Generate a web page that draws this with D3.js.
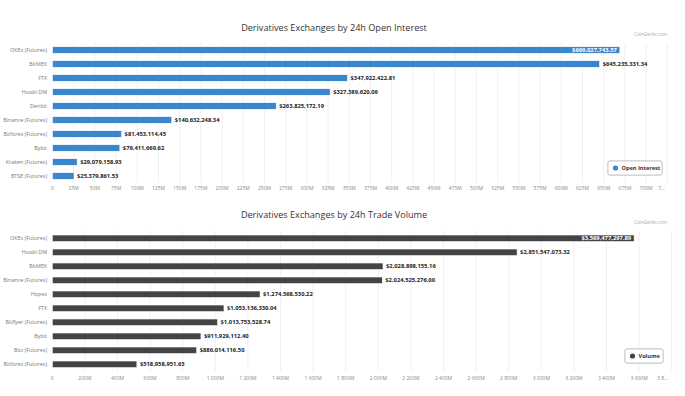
<!DOCTYPE html>
<html>
<head>
<meta charset="utf-8">
<script src="https://cdn.jsdelivr.net/npm/d3@7"></script>
<style>
  body { margin: 0; background: #fff; }
  svg { display: block; font-family: "Open Sans", "DejaVu Sans", sans-serif; }
  .title { font-size: 9.1px; fill: #333; }
  .credit { font-size: 4.5px; fill: #aaa; }
  .cat { font-size: 5.4px; fill: #777; }
  .tick-label { font-size: 5px; fill: #888; }
  .val { font-size: 5.8px; font-weight: bold; fill: #222; }
  .legend-text { font-size: 5.6px; font-weight: bold; fill: #333; }
</style>
</head>
<body>
<svg id="chart"></svg>
<script>
// data
const oiExchanges = ["OKEx (Futures)", "BitMEX", "FTX", "Huobi DM", "Deribit", "Binance (Futures)",
  "Bitforex (Futures)", "Bybit", "Kraken (Futures)", "BTSE (Futures)"]
const oiValues = [669027743.57, 645235331.34, 347922422.81, 327389620.09, 263825172.19, 140632248.34,
  81453114.45, 79411669.62, 29079158.93, 25379861.53]

const volExchanges = ["OKEx (Futures)", "Huobi DM", "BitMEX", "Binance (Futures)", "Hopex", "FTX",
  "Bitflyer (Futures)", "Bybit", "Bitz (Futures)", "Bitforex (Futures)"]
const volValues = [3569477297.89, 2851547073.32, 2028898155.16, 2024525276.00, 1274568530.22, 1053136330.04,
  1013753528.74, 911929112.40, 886014116.50, 518958951.63]

const oiTicks = d3.range(0, 725e6 + 1, 25e6)
const volTicks = d3.range(0, 3800e6 + 1, 200e6)

// constants
const width = 685
const height = 396

const svg = d3.select('svg#chart').attr('width', width).attr('height', height)

const money = d3.format("$,.2f")
const spaced = d3.formatLocale({ decimal: ".", thousands: " ", grouping: [3], currency: ["$", ""] }).format(",")

drawChart({
  title: "Derivatives Exchanges by 24h Open Interest",
  titleY: 31,
  cats: oiExchanges, vals: oiValues, ticks: oiTicks,
  xRange: [52.5, 667.3], yRange: [43, 183], tickY: 190,
  color: "#3a86cc", legend: "Open Interest",
  legendBox: { x: 608, y: 161, w: 54, h: 14 },
  creditY: 36, lastLabelEnd: 665, keep: 1,
  fmt: v => v === 0 ? "0" : (v / 1e6) + "M"
})

drawChart({
  title: "Derivatives Exchanges by 24h Trade Volume",
  titleY: 218,
  cats: volExchanges, vals: volValues, ticks: volTicks,
  xRange: [52.3, 671.7], yRange: [231.3, 371.3], tickY: 380,
  color: "#434348", legend: "Volume",
  legendBox: { x: 625, y: 349, w: 38, h: 14 },
  creditY: 224, lastLabelEnd: 668, keep: 3,
  fmt: v => v === 0 ? "0" : spaced(v / 1e6) + "M"
})

function drawChart(c) {
  const g = svg.append('g')
  const x = d3.scaleLinear().domain([0, c.ticks[c.ticks.length - 1]]).range(c.xRange)
  const y = d3.scaleBand().domain(c.cats).range(c.yRange).paddingInner(0.53).paddingOuter(0.265)
  const last = c.ticks.length - 1

  g.append('text').attr('class', 'title').attr('x', 334).attr('y', c.titleY)
    .attr('text-anchor', 'middle').text(c.title)
  g.append('text').attr('class', 'credit').attr('x', 667).attr('y', c.creditY)
    .attr('text-anchor', 'end').text("CoinGecko.com")

  // vertical grid
  g.append('g').selectAll('line').data(c.ticks.slice(1)).enter().append('line')
    .attr('x1', d => x(d)).attr('x2', d => x(d))
    .attr('y1', c.yRange[0]).attr('y2', c.yRange[1])
    .attr('stroke', '#ececec').attr('stroke-width', 0.8)

  // tick labels, the last one gets cut with an ellipsis like the original
  g.append('g').selectAll('text').data(c.ticks).enter().append('text')
    .attr('class', 'tick-label')
    .attr('x', (d, i) => i === last ? c.lastLabelEnd : x(d)).attr('y', c.tickY)
    .attr('text-anchor', (d, i) => i === last ? 'end' : 'middle')
    .text((d, i) => i === last ? c.fmt(d).slice(0, c.keep) + "…" : c.fmt(d))

  // category labels
  g.append('g').selectAll('text').data(c.cats).enter().append('text')
    .attr('class', 'cat')
    .attr('x', 47).attr('y', d => y(d) + y.bandwidth() / 2)
    .attr('dy', '0.35em').attr('text-anchor', 'end')
    .text(d => d)

  // bars
  const data = c.cats.map((name, i) => ({ name: name, value: c.vals[i] }))
  g.append('g').selectAll('rect').data(data).enter().append('rect')
    .attr('x', x(0)).attr('y', d => y(d.name))
    .attr('width', d => x(d.value) - x(0)).attr('height', y.bandwidth())
    .attr('fill', c.color).attr('stroke', '#fff').attr('stroke-width', 0.6)

  // value labels, biggest one sits inside the bar
  g.append('g').selectAll('text').data(data).enter().append('text')
    .attr('class', 'val')
    .attr('x', (d, i) => i === 0 ? x(d.value) - 3 : x(d.value) + 3)
    .attr('y', d => y(d.name) + y.bandwidth() / 2)
    .attr('dy', '0.36em')
    .attr('text-anchor', (d, i) => i === 0 ? 'end' : 'start')
    .style('fill', (d, i) => i === 0 ? '#fff' : null)
    .text(d => money(d.value))

  // legend
  const lb = c.legendBox
  const lg = g.append('g')
  lg.append('rect').attr('x', lb.x).attr('y', lb.y).attr('width', lb.w).attr('height', lb.h)
    .attr('rx', 1.5).attr('fill', '#fff').attr('stroke', '#b5b5b5').attr('stroke-width', 0.7)
    .style('filter', 'drop-shadow(0.6px 0.6px 0.6px rgba(0,0,0,0.25))')
  lg.append('circle').attr('cx', lb.x + 7.5).attr('cy', lb.y + lb.h / 2).attr('r', 2.6).attr('fill', c.color)
  lg.append('text').attr('class', 'legend-text').attr('x', lb.x + 13.5).attr('y', lb.y + lb.h / 2)
    .attr('dy', '0.36em').text(c.legend)
}
</script>
</body>
</html>
